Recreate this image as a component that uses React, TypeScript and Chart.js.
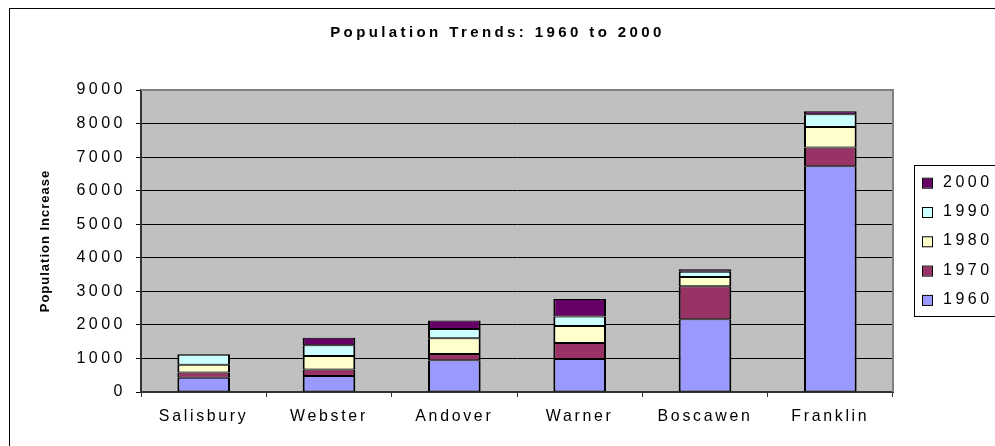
import React, { useEffect, useRef } from 'react';
import { Chart, registerables } from 'chart.js';

Chart.register(...registerables);

// ---- data ----
const categories = ['Salisbury', 'Webster', 'Andover', 'Warner', 'Boscawen', 'Franklin'];
const seriesNames = ['1960', '1970', '1980', '1990', '2000'];
const values1960 = [426, 475, 945, 980, 2170, 6725];
const values1970 = [154, 195, 186, 480, 985, 565];
const values1980 = [233, 405, 470, 510, 275, 605];
const values1990 = [300, 320, 280, 280, 150, 385];
const values2000 = [20, 220, 250, 525, 80, 90];
const seriesColors = ['#9999FF', '#993366', '#FFFFCC', '#CCFFFF', '#660066'];
const yMin = 0;
const yMax = 9000;
const yStep = 1000;
const chartTitle = 'Population Trends: 1960 to 2000';
const yAxisTitle = 'Population Increase';

const FAMILY = '"Liberation Sans", Arial, sans-serif';

function letterSpacingFor(font: string): string {
  const m = /(\d+(?:\.\d+)?)px/.exec(font);
  const size = m ? parseFloat(m[1]) : 12;
  const bold = /bold|700/.test(font);
  if (bold && size >= 14) return '3.4px';
  if (bold) return '1px';
  if (size < 16) return '2.7px';
  return '3.5px';
}

const framePlugin = {
  id: 'frame',
  beforeDraw(chart: any) {
    const { ctx, chartArea: a } = chart;
    ctx.save();
    ctx.fillStyle = '#ffffff';
    ctx.fillRect(0, 0, chart.width, chart.height);
    ctx.strokeStyle = '#000000';
    ctx.lineWidth = 1;
    ctx.strokeRect(9.5, 8.5, chart.width + 40, chart.height + 40);
    ctx.fillStyle = '#C0C0C0';
    ctx.fillRect(a.left, a.top, a.right - a.left, a.bottom - a.top);
    ctx.restore();
  },
  afterDraw(chart: any) {
    const { ctx, chartArea: a } = chart;
    ctx.save();
    ctx.strokeStyle = '#808080';
    ctx.lineWidth = 2;
    ctx.beginPath();
    ctx.moveTo(a.left, a.top);
    ctx.lineTo(a.right, a.top);
    ctx.lineTo(a.right, a.bottom);
    ctx.stroke();
    ctx.restore();
  },
};

const legendPlugin = {
  id: 'boxLegend',
  afterDraw(chart: any) {
    const { ctx } = chart;
    const ds = chart.data.datasets.slice().reverse();
    ctx.save();
    ctx.strokeStyle = '#000000';
    ctx.lineWidth = 1;
    ctx.strokeRect(914.5, 165.5, 140, 151);
    ctx.font = '16px ' + FAMILY;
    ctx.textAlign = 'left';
    ctx.textBaseline = 'alphabetic';
    ds.forEach((d: any, k: number) => {
      const base = 186.7 + k * 29.3;
      ctx.fillStyle = d.backgroundColor;
      ctx.fillRect(923, base - 8, 9, 9);
      ctx.strokeStyle = '#000000';
      ctx.strokeRect(922.5, base - 8.5, 10, 10);
      ctx.fillStyle = '#000000';
      ctx.fillText(d.label, 943, base);
    });
    ctx.restore();
  },
};

export default function App() {
  const ref = useRef<HTMLCanvasElement | null>(null);

  useEffect(() => {
    const canvas = ref.current;
    if (!canvas) return;
    const ctx = canvas.getContext('2d') as any;
    const proto = CanvasRenderingContext2D.prototype as any;
    ctx.fillText = function (text: string, x: number, y: number, maxWidth?: number) {
      ctx.letterSpacing = letterSpacingFor(ctx.font);
      if (maxWidth === undefined) return proto.fillText.call(ctx, text, x, y);
      return proto.fillText.call(ctx, text, x, y, maxWidth);
    };
    ctx.measureText = function (text: string) {
      ctx.letterSpacing = letterSpacingFor(ctx.font);
      return proto.measureText.call(ctx, text);
    };

    const seriesValues = [values1960, values1970, values1980, values1990, values2000];

    const chart = new Chart(ctx, {
      type: 'bar',
      data: {
        labels: categories,
        datasets: seriesValues.map((d, i) => ({
          label: seriesNames[i],
          data: d,
          backgroundColor: seriesColors[i],
          borderColor: '#000000',
          borderWidth: { top: 1, bottom: 1, left: 2, right: 2 },
          borderSkipped: false,
          barPercentage: 0.42,
          categoryPercentage: 1,
        })),
      },
      options: {
        responsive: false,
        animation: false,
        events: [],
        layout: { padding: 0 },
        plugins: {
          legend: { display: false },
          tooltip: { enabled: false },
          title: {
            display: true,
            text: chartTitle,
            color: '#000000',
            font: { family: FAMILY, size: 15, weight: 'bold' },
            padding: { top: 24, bottom: 48 },
          },
        },
        scales: {
          x: {
            stacked: true,
            grid: {
              offset: true,
              drawOnChartArea: false,
              drawTicks: true,
              tickLength: 5,
              color: '#333333',
            },
            border: { display: true, color: '#333333', width: 2 },
            ticks: {
              color: '#000000',
              font: { family: FAMILY, size: 15.9 },
              padding: 10,
              maxRotation: 0,
              autoSkip: false,
            },
            afterFit: (s: any) => {
              s.height = 54;
            },
          },
          y: {
            stacked: true,
            min: yMin,
            max: yMax,
            ticks: {
              stepSize: yStep,
              color: '#000000',
              font: { family: FAMILY, size: 16 },
              padding: 10,
              callback: (v: any) => String(v),
            },
            grid: {
              color: (c: any) => (c.tick && c.tick.value === yMax ? '#808080' : '#000000'),
              tickColor: '#000000',
              tickLength: 5,
              lineWidth: 1,
            },
            border: { display: true, color: '#333333', width: 2 },
            title: {
              display: true,
              text: yAxisTitle,
              color: '#000000',
              font: { family: FAMILY, size: 13, weight: 'bold' },
              padding: { top: 38, bottom: 0 },
            },
            afterFit: (s: any) => {
              s.width = 141;
            },
          },
          legendSpace: {
            type: 'linear',
            position: 'right',
            display: true,
            grid: { display: false },
            border: { display: false },
            ticks: { display: false },
            afterFit: (s: any) => {
              s.width = 102;
            },
          },
        },
      },
      plugins: [framePlugin, legendPlugin],
    } as any);

    return () => {
      chart.destroy();
    };
  }, []);

  return (
    <canvas
      ref={ref}
      width={995}
      height={446}
      style={{ position: 'absolute', left: 0, top: 0, width: 995, height: 446, display: 'block' }}
    />
  );
}
